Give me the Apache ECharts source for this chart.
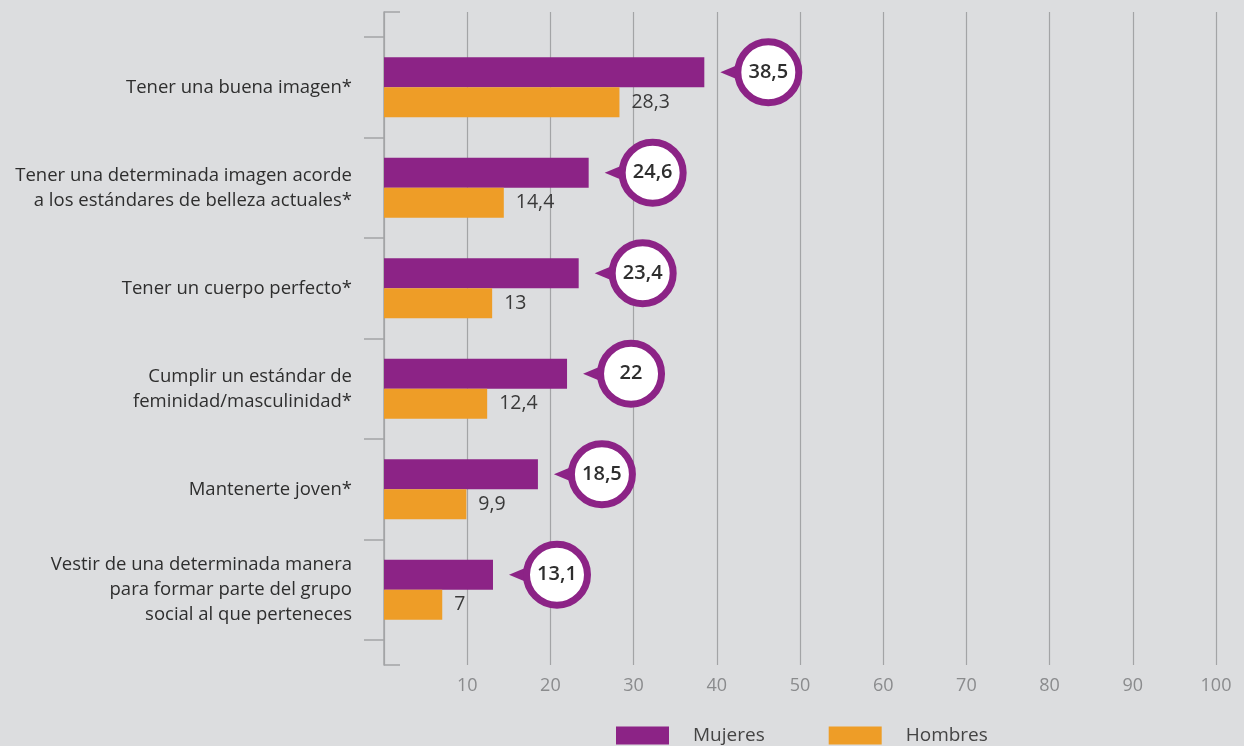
<!DOCTYPE html>
<html><head><meta charset="utf-8">
<script src="https://cdn.jsdelivr.net/npm/echarts@6/dist/echarts.min.js"></script>
<style>html,body{margin:0;padding:0;background:#dcdddf;}#c{width:1244px;height:746px;}</style>
</head><body><div id="c"></div>
<script>
const categories = [
  "Tener una buena imagen*",
  "Tener una determinada imagen acorde\na los estándares de belleza actuales*",
  "Tener un cuerpo perfecto*",
  "Cumplir un estándar de\nfeminidad/masculinidad*",
  "Mantenerte joven*",
  "Vestir de una determinada manera\npara formar parte del grupo\nsocial al que perteneces"
];
const mujeres = [38.5, 24.6, 23.4, 22, 18.5, 13.1];
const hombres = [28.3, 14.4, 13, 12.4, 9.9, 7];
const xTicks = [0, 10, 20, 30, 40, 50, 60, 70, 80, 90, 100];

const PURPLE = '#8c2386', ORANGE = '#ee9d27', GREY = '#a3a4a6';
const FONT = 'Open Sans';
const chart = echarts.init(document.getElementById('c'));
const fmt = v => String(v).replace('.', ',');

chart.setOption({
  backgroundColor: '#dcdddf',
  textStyle: { fontFamily: FONT },
  animation: false,
  grid: [
    { left: 384, right: 28, top: 37, bottom: 106 },
    { left: 384, right: 28, top: 12, bottom: 81 }
  ],
  xAxis: [
    { gridIndex: 0, type: 'value', min: 0, max: 100, interval: 10, show: false },
    { gridIndex: 1, type: 'value', min: xTicks[0], max: xTicks[xTicks.length - 1], interval: 10,
      axisLine: { show: false }, axisTick: { show: false },
      splitLine: { show: true, lineStyle: { color: GREY, width: 1.2 } },
      axisLabel: { margin: 12, color: '#8a8b8d', fontSize: 18, fontFamily: FONT,
        formatter: v => v === 0 ? '' : String(v) } }
  ],
  yAxis: [
    { gridIndex: 0, type: 'category', data: categories, inverse: true,
      axisLine: { show: false },
      axisTick: { show: true, length: 20, lineStyle: { color: GREY, width: 1.5 } },
      axisLabel: { margin: 32, color: '#2e2e2e', fontSize: 18.5, lineHeight: 25, fontFamily: FONT, align: 'right' } },
    { gridIndex: 1, type: 'value', min: 0, max: 1, interval: 1,
      axisLine: { show: true, lineStyle: { color: GREY, width: 1.5 } },
      axisTick: { show: true, inside: true, length: 16, lineStyle: { color: GREY, width: 1.5 } },
      axisLabel: { show: false }, splitLine: { show: false } }
  ],
  legend: {
    bottom: 1, left: 616, padding: 0, itemWidth: 53, itemHeight: 18, itemGap: 64,
    icon: 'rect',
    textStyle: { fontSize: 19, color: '#444', fontFamily: FONT, padding: [0, 0, 0, 19] },
    data: ['Mujeres', 'Hombres']
  },
  series: [
    { name: 'Mujeres', type: 'bar', xAxisIndex: 0, yAxisIndex: 0, data: mujeres,
      barWidth: 30, barGap: '0%', itemStyle: { color: PURPLE } },
    { name: 'Hombres', type: 'bar', xAxisIndex: 0, yAxisIndex: 0, data: hombres,
      barWidth: 30, barGap: '0%', itemStyle: { color: ORANGE },
      label: { show: true, position: 'right', distance: 12, color: '#3a3a3a', fontSize: 19.5, fontFamily: FONT,
        formatter: p => fmt(p.value) } },
    { name: 'bubbles', type: 'custom', xAxisIndex: 0, yAxisIndex: 0,
      data: mujeres.map((v, i) => [v, i]),
      renderItem: function (params, api) {
        const pt = api.coord([api.value(0), api.value(1)]);
        const x = pt[0], y = pt[1] - 15;
        const cx = x + 64, r = 30.5;
        return { type: 'group', children: [
          { type: 'polygon', shape: { points: [[x + 16, y], [cx - r + 4, y - 9], [cx - r + 4, y + 9]] },
            style: { fill: PURPLE } },
          { type: 'circle', shape: { cx: cx, cy: y, r: r },
            style: { fill: '#fff', stroke: PURPLE, lineWidth: 7 } },
          { type: 'text', x: cx, y: y,
            style: { text: fmt(api.value(0)), fill: '#2e2e2e', font: '600 20px "' + FONT + '"',
              align: 'center', verticalAlign: 'middle' } }
        ] };
      }
    }
  ]
});
</script></body></html>
